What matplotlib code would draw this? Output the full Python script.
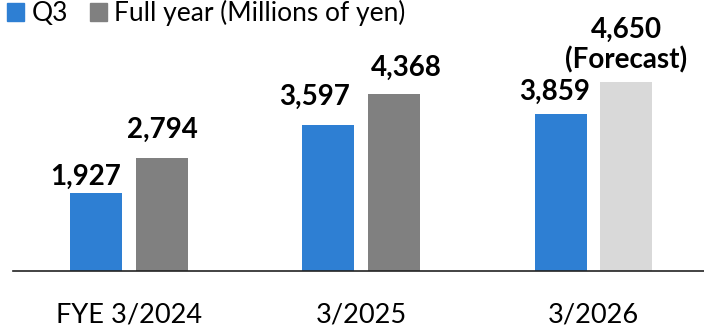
import matplotlib
matplotlib.use('Agg')
from matplotlib import pyplot as plt
from matplotlib.patches import Patch
import numpy as np

plt.rcParams['font.family'] = ['Lato', 'DejaVu Sans']

categories = ['FYE 3/2024', '3/2025', '3/2026']
q3_values = [1927, 3597, 3859]
full_values = [2794, 4368, 4650]
full_labels = ['2,794', '4,368', '4,650\n(Forecast)']

BLUE = '#2e7fd3'
GREY = '#808080'
LIGHT = '#d9d9d9'

# label offsets in pixels (dx, dy) from bar top to the last line's baseline
q3_offsets = [(-10, 8), (-14, 20), (-6, 14)]
full_offsets = [(0, 20), (12, 18), (0, 14)]

fig = plt.figure(figsize=(7.04, 3.27), dpi=100)
ax = fig.add_axes([13 / 704, 56 / 327, 1 - 13 / 704, 1 - 56 / 327])

x = np.arange(len(categories))
w = 0.224
off = 0.142
full_colors = [GREY, GREY, LIGHT]

bars_q3 = ax.bar(x - off, q3_values, w, color=BLUE)
bars_full = ax.bar(x + off, full_values, w, color=full_colors)

for b, v, (dx, dy) in zip(bars_q3, q3_values, q3_offsets):
    ax.annotate(f'{v:,}', (b.get_x() + b.get_width() / 2, v),
                xytext=(dx, dy), textcoords='offset pixels',
                ha='center', va='baseline', fontsize=20, fontweight='bold')
for b, v, lab, (dx, dy) in zip(bars_full, full_values, full_labels, full_offsets):
    ax.annotate(lab, (b.get_x() + b.get_width() / 2, v),
                xytext=(dx, dy), textcoords='offset pixels',
                ha='center', va='baseline', fontsize=20, fontweight='bold',
                linespacing=1.15, multialignment='center')

ax.set_xlim(-0.5, 2.476)
ax.set_ylim(0, 6675)
ax.set_xticks(x)
ax.set_xticklabels(categories, fontsize=19.5)
ax.tick_params(axis='x', length=0, pad=23)
ax.set_yticks([])
for s in ['top', 'left', 'right']:
    ax.spines[s].set_visible(False)
ax.spines['bottom'].set_color('#222222')
ax.spines['bottom'].set_linewidth(1.2)

handles = [Patch(color=BLUE, label='Q3'),
           Patch(color=GREY, label='Full year (Millions of yen)')]
fig.legend(handles=handles, loc='upper left', bbox_to_anchor=(7 / 704, 1 - 0 / 327),
           ncol=2, frameon=False, fontsize=19, handlelength=0.64, handleheight=0.64,
           handletextpad=0.28, columnspacing=0.85, borderpad=0, borderaxespad=0)

fig.savefig('out.png', dpi=100)
